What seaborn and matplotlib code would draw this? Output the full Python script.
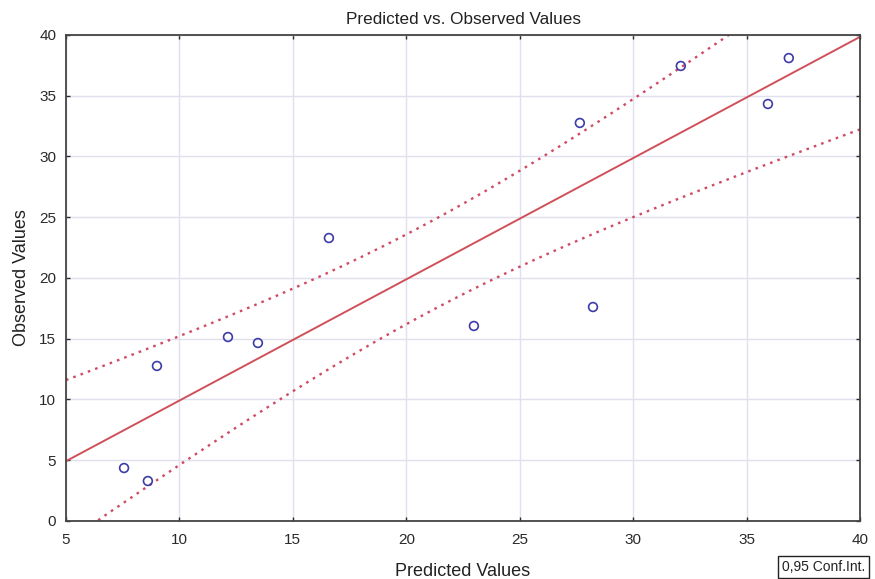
import numpy as np
import pandas as pd
import matplotlib
matplotlib.use("Agg")
import matplotlib.pyplot as plt
import seaborn as sns

# values
predicted = [7.56, 8.61, 9.01, 12.14, 13.46, 16.59, 22.98, 27.65, 28.23, 32.10, 35.94, 36.86]
observed = [4.36, 3.29, 12.76, 15.14, 14.65, 23.29, 16.05, 32.76, 17.61, 37.45, 34.32, 38.10]
x_ticks = [5, 10, 15, 20, 25, 30, 35, 40]
y_ticks = [0, 5, 10, 15, 20, 25, 30, 35, 40]
t_crit = 2.228  # t(0.975, df=10)


def fit_band(x, y, grid):
    x = np.asarray(x)
    y = np.asarray(y)
    n = len(x)
    slope, icpt = np.polyfit(x, y, 1)
    resid = y - (slope * x + icpt)
    s = np.sqrt(np.sum(resid ** 2) / (n - 2))
    sxx = np.sum((x - x.mean()) ** 2)
    fit = slope * grid + icpt
    half = t_crit * s * np.sqrt(1 / n + (grid - x.mean()) ** 2 / sxx)
    return fit, fit - half, fit + half


def main():
    sns.set_style("white")
    plt.rcParams['font.family'] = ['Liberation Sans', 'DejaVu Sans']

    df = pd.DataFrame({'pred': predicted, 'obs': observed})
    grid = np.linspace(x_ticks[0], x_ticks[-1], 200)
    fit, lo, hi = fit_band(predicted, observed, grid)
    band = pd.DataFrame({'x': grid, 'fit': fit, 'lo': lo, 'hi': hi})

    fig = plt.figure(figsize=(8.75, 5.79), dpi=100)
    ax = fig.add_axes([0.0754, 0.1002, 0.9075, 0.8394])

    ax.grid(True, color='#e0e0ee', linewidth=1)
    ax.set_axisbelow(True)

    sns.lineplot(data=band, x='x', y='fit', color='#d0505a', linewidth=1.4, ax=ax)
    dots = (0, (1.1, 2.2))
    sns.lineplot(data=band, x='x', y='lo', color='#d04a64', linewidth=1.7,
                 linestyle=dots, ax=ax)
    sns.lineplot(data=band, x='x', y='hi', color='#d04a64', linewidth=1.7,
                 linestyle=dots, ax=ax)
    sns.scatterplot(data=df, x='pred', y='obs', marker='o', s=40,
                    facecolor='none', edgecolor='#3c3ca8', linewidth=1.2, ax=ax, zorder=5)

    ax.set_xlim(x_ticks[0], x_ticks[-1])
    ax.set_ylim(y_ticks[0], y_ticks[-1])
    ax.set_xticks(x_ticks)
    ax.set_yticks(y_ticks)
    ax.tick_params(direction='in', length=3, width=1, labelsize=11, colors='#2a2a2a',
                   top=True, right=True, bottom=True, left=True)
    ax.tick_params(axis='x', pad=9)
    ax.tick_params(axis='y', pad=7)
    for sp in ax.spines.values():
        sp.set_color('#444444')
        sp.set_linewidth(1.3)

    ax.set_title('Predicted vs. Observed Values', fontsize=12.3, color='#222222', pad=8)
    ax.set_xlabel('Predicted Values', fontsize=13, color='#222222', labelpad=11)
    ax.set_ylabel('Observed Values', fontsize=13, color='#222222', labelpad=7)

    fig.text(0.8937, 0.014, '0,95 Conf.Int.', fontsize=10, color='#222222',
             bbox=dict(boxstyle='square,pad=0.3', facecolor='white', edgecolor='#222222', linewidth=1))

    fig.savefig('out.png', dpi=100)


if __name__ == '__main__':
    main()
